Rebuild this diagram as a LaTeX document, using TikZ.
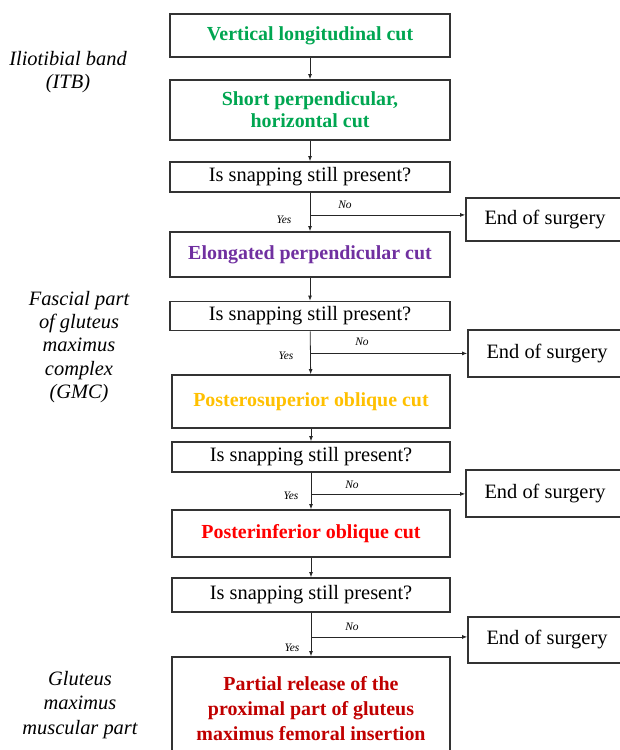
\documentclass[tikz,border=0pt]{standalone}
\usepackage{fontspec}
\setmainfont{Liberation Serif}
\usetikzlibrary{arrows.meta}
\definecolor{cgreen}{HTML}{00A651}
\definecolor{cpurple}{HTML}{7030A0}
\definecolor{cgold}{HTML}{FFC000}
\definecolor{cred}{HTML}{FF0000}
\definecolor{cdred}{HTML}{C00000}
\definecolor{edge}{HTML}{333333}
\tikzset{
 box/.style={draw=edge, line width=1.8bp, inner sep=0pt, align=center},
 mainbox/.style={box, minimum width=280bp},
 lowbox/.style={box, minimum width=278bp},
 endbox/.style={box, minimum width=158bp, font=\fontsize{20.5}{22}\selectfont},
 boldtxt/.style={font=\fontsize{20}{22}\selectfont\bfseries},
 regtxt/.style={font=\fontsize{20.5}{22}\selectfont},
 side/.style={font=\fontsize{20.5}{23.5}\selectfont\itshape, align=center},
 yn/.style={font=\fontsize{11.5}{12}\selectfont\itshape, inner sep=1pt},
 arr/.style={draw=black!85, line width=0.8bp, -{Latex[length=5bp,width=4bp]}},
}
\begin{document}
\begin{tikzpicture}[x=1bp,y=-1bp]
\useasboundingbox (0,0) rectangle (620,750);
% main column
\node[mainbox, boldtxt, text=cgreen, minimum height=43bp] (b1) at (310,35.5) {Vertical longitudinal cut};
\node[mainbox, boldtxt, text=cgreen, minimum height=60bp] (b2) at (310,110) {Short perpendicular,\\horizontal cut};
\node[mainbox, regtxt, minimum height=30bp] (b3) at (310,177) {Is snapping still present?};
\node[mainbox, boldtxt, text=cpurple, minimum height=45bp] (b4) at (310,254.5) {Elongated perpendicular cut};
\node[mainbox, regtxt, minimum height=29bp] (b5) at (310,316) {Is snapping still present?};
\node[lowbox, boldtxt, text=cgold, minimum height=53bp] (b6) at (311,401.5) {Posterosuperior oblique cut};
\node[lowbox, regtxt, minimum height=30bp] (b7) at (311,457) {Is snapping still present?};
\node[lowbox, boldtxt, text=cred, minimum height=47bp] (b8) at (311,533.5) {Posterinferior oblique cut};
\node[lowbox, regtxt, minimum height=34bp] (b9) at (311,595) {Is snapping still present?};
\node[lowbox, font=\fontsize{20}{25}\selectfont\bfseries, text=cdred, minimum height=103bp] (b10) at (311,708.5) {Partial release of the\\proximal part of gluteus\\maximus femoral insertion};
% end boxes
\node[endbox, minimum height=43bp] (e1) at (545,219.5) {End of surgery};
\node[endbox, minimum height=47bp] (e2) at (547,353.5) {End of surgery};
\node[endbox, minimum height=47bp] (e3) at (545,493.5) {End of surgery};
\node[endbox, minimum height=46bp] (e4) at (547,640) {End of surgery};
% side labels
\node[side] (l1) at (68,72) {Iliotibial band\\(ITB)};
\node[side] (l2) at (79,347) {Fascial part\\of gluteus\\maximus\\complex\\(GMC)};
\node[side, font=\fontsize{20.5}{25}\selectfont\itshape] (l3) at (80,705) {Gluteus\\maximus\\muscular part};
% connectors
\draw[arr] (b1) -- (b2);
\draw[arr] (b2) -- (b3);
\draw[arr] (b3) -- (b4);
\draw[arr] (b4) -- (b5);
\draw[arr] (b5) -- (b6);
\draw[arr] (b6) -- (b7);
\draw[arr] (b7) -- (b8);
\draw[arr] (b8) -- (b9);
\draw[arr] (b9) -- (b10);
\path (b3.south) ++(0,22) coordinate (j1);
\path (b5.south) ++(0,22) coordinate (j2);
\path (b7.south) ++(0,21) coordinate (j3);
\path (b9.south) ++(0,24) coordinate (j4);
\draw[arr] (j1) -- (j1 -| e1.west);
\draw[arr] (j2) -- (j2 -| e2.west);
\draw[arr] (j3) -- (j3 -| e3.west);
\draw[arr] (j4) -- (j4 -| e4.west);
% yes / no
\node[yn] (n1) at (345,205) {No};
\node[yn] (y1) at (284,220) {Yes};
\node[yn] (n2) at (362,342) {No};
\node[yn] (y2) at (286,356) {Yes};
\node[yn] (n3) at (352,485) {No};
\node[yn] (y3) at (291,496) {Yes};
\node[yn] (n4) at (352,627) {No};
\node[yn] (y4) at (292,648) {Yes};
\end{tikzpicture}
\end{document}
